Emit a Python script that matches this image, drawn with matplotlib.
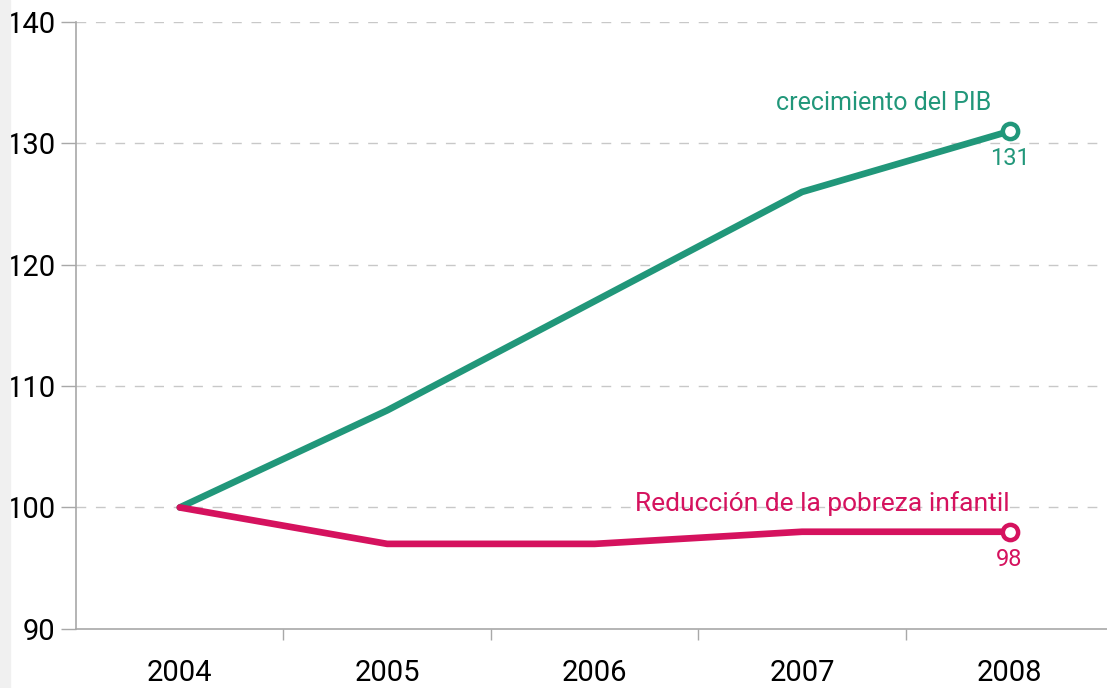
import matplotlib
matplotlib.use('Agg')
import matplotlib.pyplot as plt
from matplotlib import font_manager

# pick a narrow family if one is there
names = {f.name for f in font_manager.fontManager.ttflist}
FAMILY = 'Liberation Sans Narrow' if 'Liberation Sans Narrow' in names else 'Roboto'
plt.rcParams['font.family'] = [FAMILY, 'DejaVu Sans']

years = [2004, 2005, 2006, 2007, 2008]
pib = [100, 108, 117, 126, 131]
pobreza = [100, 97, 97, 98, 98]
y_ticks = [90, 100, 110, 120, 130, 140]

GREEN = '#21977a'
PINK = '#d5125e'
GRID = '#c8c8c8'
SPINE = '#a8a8a8'

fig = plt.figure(figsize=(11.07, 6.88), dpi=100)
ax = fig.add_axes([0.0687, 0.086, 0.9313, 0.882])

# light strip on the far left of the page
fig.patches.append(plt.Rectangle((0, 0), 0.009, 1, transform=fig.transFigure,
                                 color='#f0f0f0', zorder=0))

ax.plot(years, pib, color=GREEN, linewidth=4.8, solid_capstyle='round', zorder=3)
ax.plot(years, pobreza, color=PINK, linewidth=4.8, solid_capstyle='round', zorder=3)
ax.plot(years[-1], pib[-1], 'o', markersize=11, markerfacecolor='white',
        markeredgecolor=GREEN, markeredgewidth=3.2, zorder=4)
ax.plot(years[-1], pobreza[-1], 'o', markersize=11, markerfacecolor='white',
        markeredgecolor=PINK, markeredgewidth=3.2, zorder=4)

ax.text(years[-1] - 0.09, pib[-1] + 1.3, 'crecimiento del PIB', color=GREEN,
        fontsize=18, ha='right', va='bottom')
ax.text(years[-1], pib[-1] - 1.3, str(pib[-1]), color=GREEN,
        fontsize=17, ha='center', va='top')
ax.text(years[-1], pobreza[-1] + 1.3, 'Reducción de la pobreza infantil', color=PINK,
        fontsize=19, ha='right', va='bottom')
ax.text(years[-1], pobreza[-1] - 1.3, str(pobreza[-1]), color=PINK,
        fontsize=17, ha='center', va='top')

ax.set_xlim(2003.5, 2008.47)
ax.set_ylim(90, 140)
ax.set_yticks(y_ticks)
ax.set_yticklabels([str(v) for v in y_ticks], fontsize=21)
ax.set_xticks(years)
ax.set_xticklabels([str(y) for y in years], fontsize=21)
ax.set_xticks([y + 0.5 for y in years[:-1]], minor=True)

ax.tick_params(axis='x', which='major', length=0, pad=22)
ax.tick_params(axis='x', which='minor', length=8, color=SPINE, width=1)
ax.tick_params(axis='y', length=11, color=SPINE, width=1, pad=4, direction='out')

for y in y_ticks[1:]:
    ax.axhline(y, color=GRID, linewidth=1, linestyle=(0, (7, 7)), zorder=1)

for side in ['top', 'right']:
    ax.spines[side].set_visible(False)
for side in ['left', 'bottom']:
    ax.spines[side].set_color(SPINE)
    ax.spines[side].set_linewidth(1.2)

fig.savefig('out.png', dpi=100)
